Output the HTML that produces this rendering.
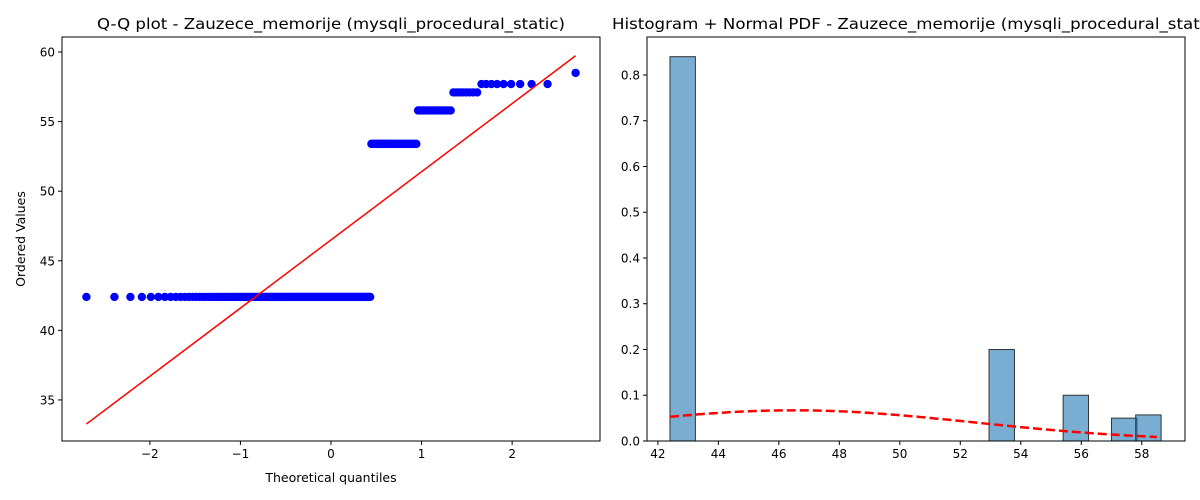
<!DOCTYPE html>
<html><head><meta charset="utf-8"><style>
html,body{margin:0;padding:0;background:#fff;}
svg{display:block;font-family:"DejaVu Sans","Liberation Sans",sans-serif;}
</style></head><body>
<svg id="c" width="1200" height="500"></svg>
<script>
// Q-Q data: distinct observed values and counts
const qqValues = [42.4, 53.4, 55.8, 57.1, 57.7, 58.5];
const qqCounts = [134, 32, 16, 8, 9, 1];
const fitSlope = 4.9;
const fitIntercept = 46.5;
const leftXTicks = [-2, -1, 0, 1, 2];
const leftYTicks = [35, 40, 45, 50, 55, 60];
// histogram
const binStarts = [42.4, 52.95, 55.4, 57.0, 57.8];
const binWidth = 0.84;
const binHeights = [0.84, 0.2, 0.1, 0.05, 0.057];
const pdfMean = 46.5;
const pdfSd = 5.95;
const rightXTicks = [42, 44, 46, 48, 50, 52, 54, 56, 58];
const rightYTicks = [0.0, 0.1, 0.2, 0.3, 0.4, 0.5, 0.6, 0.7, 0.8];

const NS = "http://www.w3.org/2000/svg";
const svg = document.getElementById('c');
function mk(tag, attrs, parent) {
  const e = document.createElementNS(NS, tag);
  for (const k in attrs) e.setAttribute(k, attrs[k]);
  (parent || svg).appendChild(e);
  return e;
}
function txt(s, attrs, parent) { const t = mk('text', attrs, parent); t.textContent = s; return t; }

function invNorm(p) {
  const a=[-3.969683028665376e+01,2.209460984245205e+02,-2.759285104469687e+02,1.383577518672690e+02,-3.066479806614716e+01,2.506628277459239e+00];
  const b=[-5.447609879822406e+01,1.615858368580409e+02,-1.556989798598866e+02,6.680131188771670e+01,-1.328068155288572e+01];
  const c=[-7.784894002430293e-03,-3.223964580411365e-01,-2.400758277161838e+00,-2.549732539343734e+00,4.374664141464968e+00,2.938163982698783e+00];
  const d=[7.784695709041462e-03,3.224671290700398e-01,2.445134137142996e+00,3.754408661907416e+00];
  const pl=0.02425;
  if (p<pl){const q=Math.sqrt(-2*Math.log(p));return (((((c[0]*q+c[1])*q+c[2])*q+c[3])*q+c[4])*q+c[5])/((((d[0]*q+d[1])*q+d[2])*q+d[3])*q+1);}
  if (p>1-pl){const q=Math.sqrt(-2*Math.log(1-p));return -(((((c[0]*q+c[1])*q+c[2])*q+c[3])*q+c[4])*q+c[5])/((((d[0]*q+d[1])*q+d[2])*q+d[3])*q+1);}
  const q=p-0.5,r=q*q;
  return (((((a[0]*r+a[1])*r+a[2])*r+a[3])*r+a[4])*r+a[5])*q/(((((b[0]*r+b[1])*r+b[2])*r+b[3])*r+b[4])*r+1);
}

// ---------- Left: Q-Q plot ----------
const L = {x0:62, x1:600, y0:37, y1:441, xmin:-2.97, xmax:2.97, ymin:32.05, ymax:61.08};
const lx = v => L.x0 + (v - L.xmin) / (L.xmax - L.xmin) * (L.x1 - L.x0);
const ly = v => L.y1 - (v - L.ymin) / (L.ymax - L.ymin) * (L.y1 - L.y0);
const gL = mk('g', {}, svg);



const n = qqCounts.reduce((a, b) => a + b, 0);
const pts = mk('g', {}, gL);


let idx = 0;
const qs = [];
qqValues.forEach((v, k) => {
  for (let j = 0; j < qqCounts[k]; j++) {
    idx++;
    let m;
    if (idx === n) m = Math.pow(0.5, 1 / n);
    else if (idx === 1) m = 1 - Math.pow(0.5, 1 / n);
    else m = (idx - 0.3175) / (n + 0.365);
    const q = invNorm(m);
    qs.push(q);
    const c = mk('circle', {cx: lx(q), cy: ly(v), r: 4.2, fill: '#0000ff'}, pts);
    
    
  }
});
const qmin = qs[0], qmax = qs[qs.length - 1];
const fit = mk('line', {x1: lx(qmin), y1: ly(fitIntercept + fitSlope * qmin), x2: lx(qmax), y2: ly(fitIntercept + fitSlope * qmax), stroke: '#ff0000', 'stroke-width': 1.5}, gL);


const fL = mk('rect', {x: L.x0, y: L.y0, width: L.x1 - L.x0, height: L.y1 - L.y0, fill: 'none', stroke: '#000', 'stroke-width': 1}, gL);


leftXTicks.forEach(t => {
  mk('line', {x1: lx(t), x2: lx(t), y1: L.y1, y2: L.y1 + 4, stroke: '#000'}, gL);
  const e = txt(String(t).replace('-', '\u2212'), {x: lx(t), y: L.y1 + 17, 'font-size': 12, 'text-anchor': 'middle'}, gL);
  
  
});
leftYTicks.forEach(t => {
  mk('line', {x1: L.x0 - 4, x2: L.x0, y1: ly(t), y2: ly(t), stroke: '#000'}, gL);
  const e = txt(String(t), {x: L.x0 - 7, y: ly(t) + 4.5, 'font-size': 12, 'text-anchor': 'end'}, gL);
  
  
});
let e = txt('Q-Q plot - Zauzece_memorije (mysqli_procedural_static)', {x: 97, y: 29, 'font-size': 15, textLength: 468, lengthAdjust: 'spacingAndGlyphs'}, gL);


e = txt('Theoretical quantiles', {x: 331, y: 482, 'font-size': 12.5, 'text-anchor': 'middle'}, gL);


e = txt('Ordered Values', {x: 0, y: 0, 'font-size': 12.5, 'text-anchor': 'middle', transform: 'translate(25,239) rotate(-90)'}, gL);



// ---------- Right: histogram ----------
const R = {x0:647, x1:1185, y0:37, y1:441, xmin:41.64, xmax:59.43, ymin:0, ymax:0.883};
const rx = v => R.x0 + (v - R.xmin) / (R.xmax - R.xmin) * (R.x1 - R.x0);
const ry = v => R.y1 - (v - R.ymin) / (R.ymax - R.ymin) * (R.y1 - R.y0);
const gR = mk('g', {}, svg);


binStarts.forEach((s, i) => {
  const b = mk('rect', {x: rx(s), y: ry(binHeights[i]), width: rx(s + binWidth) - rx(s), height: ry(0) - ry(binHeights[i]), fill: '#1f77b4', 'fill-opacity': 0.6, stroke: '#333', 'stroke-width': 1}, gR);
  
  
});
let d = '';
const pMin = 42.4, pMax = 58.5;
for (let i = 0; i <= 200; i++) {
  const xv = pMin + (pMax - pMin) * i / 200;
  const yv = Math.exp(-0.5 * Math.pow((xv - pdfMean) / pdfSd, 2)) / (pdfSd * Math.sqrt(2 * Math.PI));
  d += (i ? 'L' : 'M') + rx(xv).toFixed(2) + ',' + ry(yv).toFixed(2);
}
const pdf = mk('path', {d: d, fill: 'none', stroke: '#ff0000', 'stroke-width': 2.5, 'stroke-dasharray': '9,4'}, gR);


const fR = mk('rect', {x: R.x0, y: R.y0, width: R.x1 - R.x0, height: R.y1 - R.y0, fill: 'none', stroke: '#000', 'stroke-width': 1}, gR);


rightXTicks.forEach(t => {
  mk('line', {x1: rx(t), x2: rx(t), y1: R.y1, y2: R.y1 + 4, stroke: '#000'}, gR);
  const e2 = txt(String(t), {x: rx(t), y: R.y1 + 17, 'font-size': 12, 'text-anchor': 'middle'}, gR);
  
  
});
rightYTicks.forEach(t => {
  mk('line', {x1: R.x0 - 4, x2: R.x0, y1: ry(t), y2: ry(t), stroke: '#000'}, gR);
  const e2 = txt(t.toFixed(1), {x: R.x0 - 7, y: ry(t) + 4.5, 'font-size': 12, 'text-anchor': 'end'}, gR);
  
  
});
e = txt('Histogram + Normal PDF - Zauzece_memorije (mysqli_procedural_static)', {x: 612, y: 29, 'font-size': 15, textLength: 608, lengthAdjust: 'spacingAndGlyphs'}, gR);


</script>
</body></html>
